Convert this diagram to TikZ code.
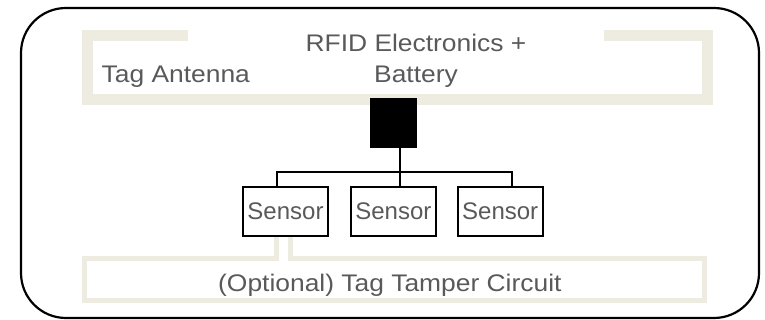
\documentclass[tikz,border=0pt]{standalone}
\usepackage{fontspec}
\setmainfont{Liberation Sans}
\newfontfamily\widefont[FakeStretch=1.1]{Liberation Sans}
\definecolor{beige}{RGB}{238,235,224}
\definecolor{txtgray}{RGB}{89,89,89}
\begin{document}
\begin{tikzpicture}[x=1pt,y=-1pt,
  lbl/.style={inner sep=0pt,text=txtgray,font=\widefont\fontsize{24}{31}\selectfont},
  sensorbox/.style={draw=black,line width=2pt,minimum width=85pt,minimum height=49pt,inner sep=0pt,text=txtgray,font=\fontsize{24}{29}\selectfont},
  trace/.style={draw=beige,line join=miter,line cap=butt},
  wire/.style={draw=black,line width=2.3pt}]
\useasboundingbox (0,0) rectangle (765,320);
% outer tag outline
\draw[line width=2.2pt,rounded corners=45pt] (21,8) rectangle (759,318);
% antenna trace
\draw[trace,line width=11pt] (188,35.5) -- (87.5,35.5) -- (87.5,99.5) -- (707.5,99.5) -- (707.5,35.5) -- (604,35.5);
% tamper trace
\draw[trace,line width=5pt] (276.5,236) -- (276.5,258.5) -- (84.5,258.5) -- (84.5,300.5) -- (704.5,300.5) -- (704.5,258.5) -- (290.5,258.5) -- (290.5,236);
% chip
\node[fill=black,draw=none,minimum width=47pt,minimum height=50pt,inner sep=0pt] (chip) at (393.5,123) {};
% sensors
\node[sensorbox] (s1) at (285.5,211.5) {Sensor};
\node[sensorbox] (s2) at (393.4,211.5) {Sensor};
\node[sensorbox] (s3) at (500.2,211.5) {Sensor};
% wires
\coordinate (j) at (400,172.3);
\coordinate (bl) at (277,172.3);
\coordinate (br) at (512,172.3);
\draw[wire,line width=2.8pt] (chip.south -| j) -- (j);
\draw[wire,line width=2.8pt] (j) -- (s2.north -| j);
\draw[wire] (s1.north -| bl) -- (bl) -- (br) -- (s3.north -| br);
% labels
\node[lbl,anchor=base,align=center] (rfid) at (416,83) {RFID Electronics +\\Battery};
\node[lbl,anchor=base west] (ant) at (101.5,83) {Tag Antenna};
\node[lbl,anchor=base west] (tamp) at (218,291) {(Optional) Tag Tamper Circuit};
\end{tikzpicture}
\end{document}
